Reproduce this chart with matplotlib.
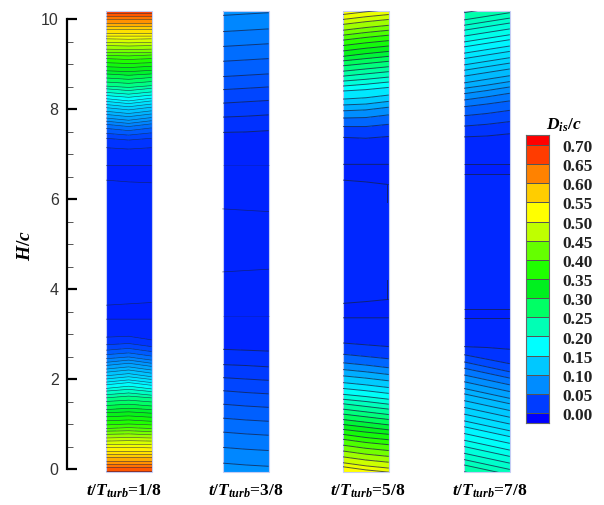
import numpy as np
import matplotlib
matplotlib.use('Agg')
import matplotlib.pyplot as plt
from matplotlib.colors import LinearSegmentedColormap, Normalize
from matplotlib.patches import Rectangle
from matplotlib.ticker import MultipleLocator

plt.rcParams['mathtext.fontset'] = 'custom'
plt.rcParams['mathtext.rm'] = 'Liberation Serif:bold'
plt.rcParams['mathtext.it'] = 'Liberation Serif:italic:bold'
plt.rcParams['mathtext.bf'] = 'Liberation Serif:bold'

# colour bar, values at the middle of each swatch
cbar_mid = [-0.025, 0.025, 0.075, 0.125, 0.175, 0.225, 0.275, 0.325,
            0.375, 0.425, 0.475, 0.525, 0.575, 0.625, 0.675, 0.725]
cbar_colors = ['#0000ff', '#003cff', '#008cff', '#00c8ff', '#00ffff', '#00ffb4',
               '#00ff64', '#00f01e', '#1eff00', '#64ff00', '#beff00', '#ffff00',
               '#ffcd00', '#ff8200', '#ff3c00', '#ff0000']
cbar_edges = [-0.05, 0.0, 0.05, 0.10, 0.15, 0.20, 0.25, 0.30, 0.35, 0.40, 0.45,
              0.50, 0.55, 0.60, 0.65, 0.70, 0.75]
cbar_labels = ['0.00', '0.05', '0.10', '0.15', '0.20', '0.25', '0.30', '0.35',
               '0.40', '0.45', '0.50', '0.55', '0.60', '0.65', '0.70']

panel_names = [r'$t/T_{turb}$=1/8', r'$t/T_{turb}$=3/8', r'$t/T_{turb}$=5/8', r'$t/T_{turb}$=7/8']

# Panel data: D value, height at panel centre, left and right edge offset of each row
p1_d = [0.68, 0.665, 0.645, 0.625, 0.605, 0.585, 0.565, 0.545, 0.525, 0.505, 0.485, 0.465, 0.445,
        0.425, 0.405, 0.385, 0.365, 0.345, 0.325, 0.305, 0.285, 0.265, 0.245, 0.225, 0.205, 0.185,
        0.168, 0.155, 0.142, 0.129, 0.116, 0.103, 0.09, 0.077, 0.064, 0.051, 0.038, 0.025, 0.012,
        0.004, 0.0, 0.004, 0.008, 0.004, 0.0, 0.004,
        0.012, 0.025, 0.038, 0.051, 0.064, 0.077, 0.09, 0.103, 0.116, 0.129, 0.142, 0.155, 0.168,
        0.185, 0.205, 0.225, 0.245, 0.265, 0.285, 0.305, 0.325, 0.345, 0.365, 0.385, 0.405, 0.425,
        0.445, 0.465, 0.485, 0.505, 0.525, 0.545, 0.565, 0.585, 0.605, 0.625, 0.645, 0.665, 0.68]
p1_h = [-0.7, -0.04, 0.04, 0.11, 0.18, 0.26, 0.33, 0.41, 0.48, 0.55, 0.63, 0.70, 0.78,
        0.85, 0.92, 1.00, 1.09, 1.18, 1.27, 1.35, 1.44, 1.53, 1.62, 1.69, 1.77, 1.84,
        1.92, 1.98, 2.05, 2.12, 2.20, 2.27, 2.35, 2.42, 2.49, 2.58, 2.68, 2.79, 2.95,
        3.33, 3.50, 3.67, 5.00, 6.38, 6.56, 6.74,
        7.11, 7.31, 7.42, 7.52, 7.61, 7.68, 7.75, 7.83, 7.90, 7.98, 8.05, 8.12, 8.18,
        8.26, 8.33, 8.41, 8.48, 8.57, 8.66, 8.75, 8.83, 8.92, 9.01, 9.10, 9.18, 9.25,
        9.32, 9.40, 9.47, 9.55, 9.62, 9.69, 9.77, 9.84, 9.92, 9.99, 10.06, 10.14, 10.9]
p1_dl = [0.0, 0.0, 0.0, 0.0, 0.0, 0.0, 0.0, 0.0, 0.0, -0.01, -0.01, -0.01, -0.01,
         -0.01, -0.02, -0.02, -0.02, -0.02, -0.02, -0.03, -0.03, -0.03, -0.04, -0.04, -0.04, -0.05,
         -0.05, -0.05, -0.05, -0.05, -0.05, -0.05, -0.05, -0.05, -0.04, -0.04, -0.04, -0.03, -0.02,
         0.0, 0.0, -0.03, 0.0, 0.04, 0.0, 0.0,
         0.03, 0.04, 0.04, 0.05, 0.05, 0.05, 0.05, 0.05, 0.05, 0.05, 0.05, 0.05, 0.05,
         0.04, 0.04, 0.04, 0.03, 0.03, 0.03, 0.03, 0.02, 0.02, 0.02, 0.02, 0.01, 0.01,
         0.01, 0.01, 0.01, 0.01, 0.0, 0.0, 0.0, 0.0, 0.0, 0.0, 0.0, 0.0, 0.0]
p1_dr = [0.0, 0.0, 0.0, 0.0, 0.0, 0.0, 0.0, 0.0, -0.01, -0.01, -0.01, -0.01, -0.02,
         -0.02, -0.02, -0.02, -0.03, -0.03, -0.03, -0.03, -0.04, -0.04, -0.04, -0.05, -0.05, -0.06,
         -0.06, -0.06, -0.06, -0.07, -0.07, -0.07, -0.07, -0.07, -0.07, -0.07, -0.07, -0.07, -0.08,
         0.0, 0.0, 0.03, 0.0, -0.02, 0.0, 0.0,
         0.03, 0.04, 0.05, 0.06, 0.06, 0.06, 0.06, 0.06, 0.06, 0.06, 0.06, 0.06, 0.06,
         0.05, 0.05, 0.05, 0.04, 0.04, 0.04, 0.03, 0.03, 0.03, 0.02, 0.02, 0.02, 0.01,
         0.01, 0.01, 0.01, 0.01, 0.0, 0.0, 0.0, 0.0, 0.0, 0.0, 0.0, 0.0, 0.0]

p2_d = [0.082, 0.076, 0.068, 0.06, 0.052, 0.044, 0.036, 0.028, 0.02, 0.012, 0.006,
        0.012, 0.02, 0.028, 0.036, 0.044, 0.052, 0.06, 0.068, 0.076, 0.082]
p2_h = [-0.7, 0.09, 0.44, 0.78, 1.09, 1.40, 1.70, 2.00, 2.30, 2.64, 5.00,
        7.49, 7.84, 8.16, 8.46, 8.75, 9.09, 9.42, 9.75, 10.11, 10.9]
p2_dl = [0.0, 0.04, 0.04, 0.04, 0.04, 0.04, 0.04, 0.03, 0.02, 0.02, 0.0,
         -0.01, -0.02, -0.03, -0.03, -0.03, -0.03, -0.03, -0.03, -0.03, 0.0]
p2_dr = [0.0, -0.03, -0.03, -0.03, -0.03, -0.03, -0.03, -0.03, -0.03, -0.02, 0.0,
         0.03, 0.03, 0.03, 0.03, 0.03, 0.03, 0.03, 0.03, 0.03, 0.0]
p2_thin_h = [3.41, 4.41, 5.75, 6.75]
p2_thin_tilt = [0.0, 0.03, -0.03, 0.0]

p3_d = [0.53, 0.52, 0.50, 0.47, 0.445, 0.42, 0.395, 0.37, 0.345, 0.32, 0.295, 0.27, 0.25, 0.23, 0.21,
        0.19, 0.17, 0.14, 0.115, 0.09, 0.065, 0.04, 0.012,
        0.004, 0.0, 0.004, 0.008, 0.004, 0.0, 0.004,
        0.012, 0.04, 0.065, 0.09, 0.115, 0.14, 0.17, 0.19, 0.21, 0.23, 0.25, 0.27, 0.295, 0.32,
        0.345, 0.37, 0.395, 0.42, 0.445, 0.47, 0.50, 0.52, 0.53]
p3_h = [-0.7, -0.02, 0.07, 0.20, 0.33, 0.46, 0.59, 0.70, 0.82, 0.93, 1.04, 1.16, 1.27, 1.39, 1.50,
        1.61, 1.74, 1.87, 2.02, 2.16, 2.31, 2.50, 2.76,
        3.36, 3.54, 3.72, 5.00, 6.38, 6.58, 6.77,
        7.35, 7.61, 7.81, 7.98, 8.11, 8.25, 8.43, 8.55, 8.66, 8.78, 8.89, 9.01, 9.12, 9.23,
        9.35, 9.47, 9.59, 9.70, 9.81, 9.94, 10.05, 10.16, 10.9]
p3_dl = [0.0, 0.07, 0.07, 0.07, 0.07, 0.07, 0.07, 0.07, 0.06, 0.06, 0.06, 0.06, 0.06, 0.06, 0.05,
         0.05, 0.05, 0.05, 0.05, 0.05, 0.05, 0.05, 0.04,
         0.0, 0.0, -0.04, 0.0, 0.04, 0.0, 0.0,
         0.02, 0.0, -0.01, -0.02, -0.02, -0.03, -0.03, -0.04, -0.04, -0.05, -0.05, -0.05, -0.05, -0.06,
         -0.06, -0.06, -0.06, -0.06, -0.06, -0.06, -0.06, -0.06, 0.0]
p3_dr = [0.0, -0.05, -0.05, -0.05, -0.05, -0.05, -0.05, -0.05, -0.05, -0.06, -0.06, -0.06, -0.06, -0.06, -0.06,
         -0.06, -0.06, -0.06, -0.06, -0.06, -0.06, -0.05, -0.04,
         0.0, 0.0, 0.05, 0.0, -0.06, 0.0, 0.0,
         0.04, 0.05, 0.06, 0.06, 0.06, 0.06, 0.05, 0.05, 0.05, 0.05, 0.05, 0.05, 0.05, 0.05,
         0.05, 0.05, 0.05, 0.05, 0.05, 0.05, 0.05, 0.05, 0.0]
p3_notch_top = [5.94, 6.32]
p3_notch_bottom = [3.77, 4.20]

p4_d = [0.245, 0.235, 0.225, 0.215, 0.205, 0.195, 0.185, 0.175, 0.16, 0.15, 0.14, 0.13, 0.12, 0.11, 0.10,
        0.085, 0.07, 0.055, 0.04, 0.025, 0.012,
        0.004, 0.0, 0.004, 0.008, 0.004, 0.0, 0.004,
        0.012, 0.025, 0.04, 0.055, 0.07, 0.085, 0.10, 0.11, 0.12, 0.13, 0.14, 0.15, 0.16,
        0.175, 0.185, 0.195, 0.205, 0.215, 0.225, 0.235, 0.245]
p4_h = [-0.7, -0.17, -0.02, 0.10, 0.24, 0.39, 0.53, 0.68, 0.83, 0.96, 1.11, 1.26, 1.41, 1.56, 1.68,
        1.83, 1.98, 2.13, 2.27, 2.44, 2.70,
        3.35, 3.45, 3.55, 5.00, 6.55, 6.66, 6.77,
        7.40, 7.66, 7.90, 8.11, 8.27, 8.41, 8.53, 8.66, 8.81, 8.94, 9.06, 9.20, 9.32,
        9.46, 9.57, 9.70, 9.83, 9.94, 10.06, 10.22, 10.9]
p4_dl = [0.0, 0.11, 0.11, 0.11, 0.11, 0.11, 0.11, 0.11, 0.11, 0.11, 0.11, 0.11, 0.11, 0.11, 0.11,
         0.11, 0.11, 0.11, 0.11, 0.10, 0.02,
         0.0, 0.0, 0.0, 0.0, 0.0, 0.0, 0.0,
         -0.02, -0.04, -0.05, -0.06, -0.07, -0.07, -0.07, -0.08, -0.08, -0.08, -0.08, -0.08, -0.08,
         -0.08, -0.08, -0.08, -0.08, -0.08, -0.08, -0.08, 0.0]
p4_dr = [0.0, -0.11, -0.11, -0.11, -0.11, -0.11, -0.11, -0.11, -0.11, -0.11, -0.11, -0.11, -0.11, -0.11, -0.11,
         -0.11, -0.11, -0.11, -0.11, -0.10, -0.04,
         0.0, 0.0, 0.0, 0.0, 0.0, 0.0, 0.0,
         0.05, 0.06, 0.07, 0.07, 0.08, 0.08, 0.08, 0.08, 0.08, 0.08, 0.08, 0.08, 0.08,
         0.08, 0.08, 0.08, 0.08, 0.08, 0.08, 0.08, 0.0]

# Colormap built from the colour bar swatches
norm = Normalize(vmin=-0.025, vmax=0.725)
cmap = LinearSegmentedColormap.from_list(
    'dis', [(norm(v), c) for v, c in zip(cbar_mid, cbar_colors)], N=512)

W, H = 604, 505
fig = plt.figure(figsize=(W / 100, H / 100), dpi=100)

# main axes: H=0 at y=469, H=10 at y=19, 45 px per unit
ax = fig.add_axes([67 / W, (H - 478) / H, 453 / W, 472.5 / H])
ax.set_xlim(0, 453 / 45)
ax.set_ylim(-0.2, 10.3)
ax.patch.set_visible(False)

panel_w = 1.02
panel_x = [0.86, 3.46, 6.13, 8.82]
panel_top = 10.18
panel_bottom = -0.06


def draw_panel(x0, d, h, dl, dr, line_w=0.7):
    d = np.array(d)
    h = np.array(h)
    x = np.array([x0, x0 + panel_w / 2, x0 + panel_w])
    X = np.tile(x, (len(d), 1))
    Y = np.column_stack([h + np.array(dl), h, h + np.array(dr)])
    Z = np.tile(d[:, None], (1, 3))
    cap = d.max()
    lines = [v for v in sorted(set(d.tolist())) if v > 0 and v != cap and v not in (0.006, 0.008)]
    clip = Rectangle((x0, panel_bottom), panel_w, panel_top - panel_bottom, transform=ax.transData)
    cf = ax.contourf(X, Y, Z, levels=[-0.001] + lines + [cap + 0.001], cmap=cmap, norm=norm)
    cf.set_clip_path(clip)
    cl = ax.contour(X, Y, Z, levels=lines, colors='#16204a', linewidths=line_w, alpha=0.75)
    cl.set_clip_path(clip)
    ax.add_patch(Rectangle((x0, panel_bottom), panel_w, panel_top - panel_bottom,
                           fill=False, edgecolor='#c4ccf4', linewidth=0.8))


draw_panel(panel_x[0], p1_d, p1_h, p1_dl, p1_dr, line_w=0.45)
draw_panel(panel_x[1], p2_d, p2_h, p2_dl, p2_dr)
draw_panel(panel_x[2], p3_d, p3_h, p3_dl, p3_dr)
draw_panel(panel_x[3], p4_d, p4_h, p4_dl, p4_dr)

# thin lines in the near zero part of panel 2
for yy, tilt in zip(p2_thin_h, p2_thin_tilt):
    ax.plot([panel_x[1], panel_x[1] + panel_w], [yy - tilt, yy + tilt], color='#16204a',
            lw=0.5, alpha=0.7 if tilt != 0 else 0.3)

# small kinks on the right edge of panel 3
notch_x = panel_x[2] + panel_w - 0.03
ax.plot([notch_x, notch_x], p3_notch_top, color='#16204a', lw=0.7, alpha=0.8)
ax.plot([notch_x, notch_x], p3_notch_bottom, color='#16204a', lw=0.7, alpha=0.8)

# y axis
for s in ['top', 'right', 'bottom']:
    ax.spines[s].set_visible(False)
ax.spines['left'].set_bounds(0, 10)
ax.spines['left'].set_linewidth(1.6)
ax.set_xticks([])
ax.yaxis.set_major_locator(MultipleLocator(2))
ax.yaxis.set_minor_locator(MultipleLocator(0.5))
ax.tick_params(axis='y', which='major', direction='in', length=7.5, width=1.6, pad=6,
               labelsize=11.5, labelcolor='#333333', labelfontfamily='Liberation Sans')
ax.tick_params(axis='y', which='minor', direction='in', length=4, width=0.7, color='#555555')
ax.set_yticks([0, 2, 4, 6, 8, 10])

fig.text(25 / W, 1 - 245 / H, '$H/c$', fontsize=14, rotation=90, ha='center', va='center',
         family='Liberation Serif', weight='bold')

label_px = [124, 246, 368, 490]
for px, name in zip(label_px, panel_names):
    fig.text(px / W, 1 - 491 / H, name, fontsize=12.5, ha='center', va='center',
             family='Liberation Serif', weight='bold')

# colour bar
cax = fig.add_axes([526 / W, (H - 423) / H, 23 / W, 288 / H])
cax.pcolormesh([0, 1], cbar_edges, np.array(cbar_mid)[:, None], cmap=cmap, norm=norm,
               edgecolors='#555555', linewidth=0.5)
cax.set_ylim(-0.026, 0.726)
cax.set_xlim(0, 1)
cax.set_xticks([])
cax.set_yticks([])
for s in cax.spines.values():
    s.set_color('#666666')
    s.set_linewidth(0.8)
for val, lab in zip(cbar_edges[1:], cbar_labels):
    cax.text(1.57, val - 0.008, lab, ha='left', va='center', fontsize=12.5,
             family='Liberation Serif', weight='bold', color='#222222')
fig.text(564 / W, 1 - 125 / H, '$D_{is}/c$', fontsize=12.5, ha='center', va='center',
         family='Liberation Serif', weight='bold')

fig.savefig('out.png', dpi=100)
